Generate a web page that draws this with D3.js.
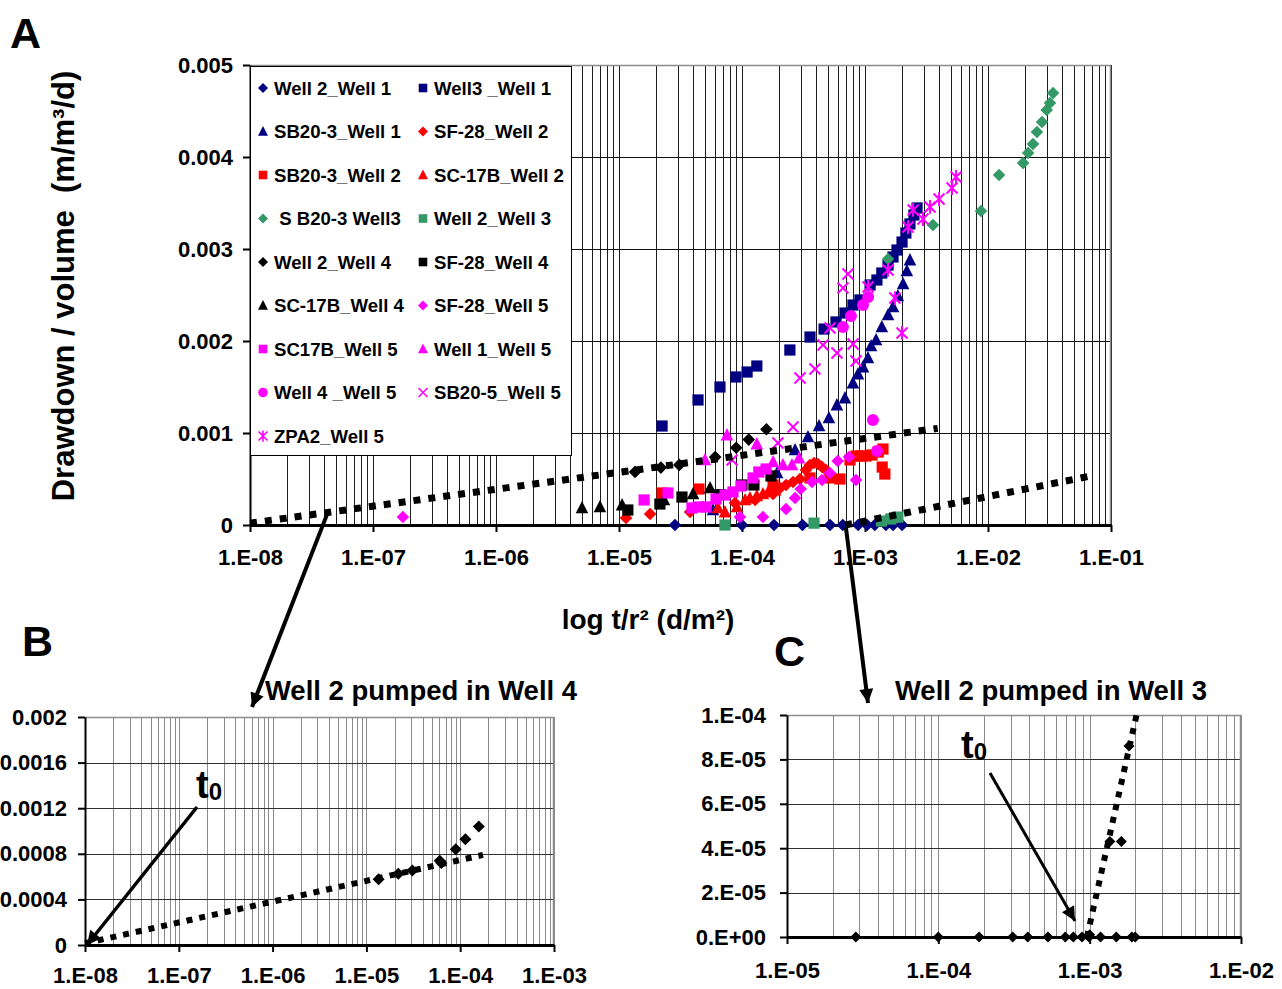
<!DOCTYPE html>
<html>
<head>
<meta charset="utf-8">
<script src="https://cdn.jsdelivr.net/npm/d3@7"></script>
<style>
  body { margin: 0; background: #fff; }
  svg { display: block; font-family: "Liberation Sans", Arial, sans-serif; font-weight: bold; }
</style>
</head>
<body>
<svg id="chart" width="1282" height="989"></svg>
<script>
// ---- data : [t/r2 (d/m2), drawdown/volume (m/m3/d)] ----

const well2Well1 = [[2.85e-5,0],[1e-4,0],[1.82e-4,0],[3.1e-4,0],[5.2e-4,0],[6.6e-4,0],[8.8e-4,0],[1.04e-3,0],[1.2e-3,0],[1.48e-3,0],[1.69e-3,0],[2.0e-3,0]];
const well3Well1 = [[2.24e-5,1.076e-3],[4.39e-5,1.359e-3],[6.62e-5,1.5e-3],[8.93e-5,1.609e-3],[1.10e-4,1.663e-3],[1.32e-4,1.728e-3],[2.45e-4,1.902e-3],[3.57e-4,2.043e-3],[4.65e-4,2.13e-3],[5.81e-4,2.207e-3],[6.87e-4,2.304e-3],[7.98e-4,2.391e-3],[9.1e-4,2.446e-3],[1.10e-3,2.609e-3],[1.25e-3,2.663e-3],[1.37e-3,2.739e-3],[1.54e-3,2.826e-3],[1.69e-3,2.913e-3],[1.82e-3,2.989e-3],[2.0e-3,3.076e-3],[2.15e-3,3.174e-3],[2.32e-3,3.272e-3],[2.5e-3,3.37e-3],[2.65e-3,3.446e-3]];
const sb203Well1 = [[5.81e-5,1.63e-4],[1.93e-4,5.65e-4],[2.70e-4,8.15e-4],[3.44e-4,9.57e-4],[4.23e-4,1.076e-3],[5.09e-4,1.163e-3],[5.91e-4,1.304e-3],[6.87e-4,1.38e-3],[7.98e-4,1.543e-3],[8.77e-4,1.641e-3],[9.64e-4,1.717e-3],[1.057e-3,1.815e-3],[1.12e-3,1.946e-3],[1.23e-3,2.011e-3],[1.37e-3,2.152e-3],[1.54e-3,2.283e-3],[1.69e-3,2.37e-3],[1.85e-3,2.489e-3],[2.04e-3,2.62e-3],[2.19e-3,2.761e-3],[2.32e-3,2.88e-3]];
const sf28Well2 = [[1.14e-5,7.6e-5],[1.79e-5,1.2e-4],[3.78e-5,1.41e-4],[8.77e-5,2.39e-4],[1.28e-4,2.72e-4],[1.79e-4,3.37e-4],[2.04e-4,4.02e-4],[2.28e-4,4.35e-4],[2.6e-4,4.67e-4],[2.96e-4,5e-4],[3.31e-4,5.98e-4],[3.57e-4,6.52e-4],[3.85e-4,6.74e-4],[4.15e-4,6.63e-4],[4.47e-4,6.3e-4],[4.82e-4,5.98e-4]];
const sb203Well2 = [[2.24e-5,3.48e-4],[4.47e-5,3.91e-4],[1.79e-4,4.35e-4],[3.57e-4,5.11e-4],[5.19e-4,5.11e-4],[6.26e-4,5e-4],[7.55e-4,7.07e-4],[8.45e-4,7.5e-4],[9.27e-4,7.5e-4],[1.02e-3,7.5e-4],[1.14e-3,7.61e-4],[1.28e-3,7.93e-4],[1.40e-3,8.26e-4],[1.38e-3,6.3e-4],[1.45e-3,5.54e-4]];
const sc17bWell2 = [[6.38e-5,1.85e-4],[7.27e-5,1.41e-4],[9.1e-5,1.96e-4],[1.06e-4,2.72e-4],[1.16e-4,2.93e-4],[1.32e-4,3.15e-4],[1.48e-4,3.37e-4],[1.63e-4,3.59e-4],[1.86e-4,3.8e-4]];
const sb203Well3 = [[1.54e-3,2.891e-3],[3.57e-3,3.261e-3],[8.77e-3,3.413e-3],[1.23e-2,3.804e-3],[1.93e-2,3.935e-3],[2.12e-2,4.043e-3],[2.32e-2,4.141e-3],[2.5e-2,4.272e-3],[2.75e-2,4.38e-3],[3.0e-2,4.511e-3],[3.19e-2,4.587e-3],[3.38e-2,4.696e-3]];
const well2Well3 = [[7.27e-5,0],[3.85e-4,2e-5],[1.36e-3,4.3e-5],[1.62e-3,6.5e-5],[1.85e-3,8.6e-5]];
const well2Well4 = [[1.35e-5,5.77e-4],[2.19e-5,6.24e-4],[3.09e-5,6.53e-4],[6.05e-5,7.38e-4],[8.97e-5,8.4e-4],[1.135e-4,9.28e-4],[1.58e-4,1.04e-3]];
const sf28Well4 = [[1.18e-5,1.63e-4],[2.15e-5,2.28e-4],[3.25e-5,3.04e-4],[6.62e-5,3.3e-4],[1.0e-4,4.35e-4],[1.25e-4,4.35e-4],[1.72e-4,5.33e-4]];
const sc17bWell4 = [[5e-6,1.85e-4],[7e-6,1.96e-4],[1.06e-5,2.17e-4],[2.32e-5,2.72e-4],[4e-5,3.37e-4],[5.5e-5,4.02e-4]];
const sf28Well5 = [[1.75e-7,8.7e-5],[9.63e-5,8.7e-5],[1.48e-4,8.7e-5],[2.28e-4,1.74e-4],[2.7e-4,2.93e-4],[3.0e-4,3.91e-4],[3.71e-4,4.67e-4],[4.47e-4,4.89e-4],[5.19e-4,5.65e-4],[6.0e-4,6.96e-4],[7.41e-4,7.39e-4],[8.45e-4,4.89e-4]];
const sc17bWell5 = [[1.6e-5,2.72e-4],[2.5e-5,3.48e-4],[3.92e-5,1.85e-4],[4.47e-5,1.96e-4],[5.1e-5,1.96e-4],[6.15e-5,2.83e-4],[7.27e-5,3.26e-4],[8.45e-5,3.59e-4],[9.8e-5,4.24e-4],[1.23e-4,5.11e-4],[1.37e-4,5.76e-4],[1.57e-4,6.09e-4]];
const well1Well5 = [[5e-5,7.07e-4],[7.55e-5,9.78e-4],[1.32e-4,8.8e-4],[1.79e-4,6.85e-4],[2.15e-4,6.52e-4],[2.55e-4,6.52e-4],[2.91e-4,7.28e-4]];
const well4Well5 = [[6.62e-4,2.152e-3],[7.69e-4,2.272e-3],[9.63e-4,2.391e-3],[1.06e-3,2.478e-3],[1.16e-3,1.141e-3],[1.25e-3,8.04e-4]];
const sb205Well5 = [[8.3e-5,7.07e-4],[1.96e-4,8.91e-4],[2.6e-4,1.065e-3],[2.96e-4,1.598e-3],[3.92e-4,1.696e-3],[4.56e-4,1.957e-3],[5.19e-4,2.141e-3],[5.92e-4,1.87e-3],[6.62e-4,2.576e-3],[7.27e-4,2.728e-3],[8.0e-4,1.967e-3],[8.45e-4,1.783e-3]];
const zpa2Well5 = [[1.06e-3,2.587e-3],[1.54e-3,2.772e-3],[1.75e-3,2.467e-3],[2.0e-3,2.087e-3],[2.24e-3,3.239e-3],[2.46e-3,3.424e-3],[2.96e-3,3.326e-3],[3.38e-3,3.457e-3],[4.0e-3,3.543e-3],[5.1e-3,3.663e-3],[5.5e-3,3.783e-3]];

// trend lines (straight on semi-log paper)
const trendWell4 = [[1e-8,2e-5],[3.9e-3,1.05e-3]];
const trendWell3 = [[6.9e-4,0],[6.7e-2,5.3e-4]];

// panel B : Well 2 pumped in Well 4
const detailWell4 = [[1.35e-5,5.77e-4],[2.19e-5,6.24e-4],[3.09e-5,6.53e-4],[6.05e-5,7.38e-4],[6.3e-5,7.2e-4],[8.97e-5,8.4e-4],[1.135e-4,9.28e-4],[1.58e-4,1.04e-3]];
const detailTrendWell4 = [[1e-8,1.5e-5],[1.75e-4,7.9e-4]];

// panel C : Well 2 pumped in Well 3
const detailWell3 = [[2.85e-5,0],[1e-4,0],[1.86e-4,0],[3.1e-4,0],[3.9e-4,0],[5.3e-4,0],[6.9e-4,0],[7.8e-4,0],[8.9e-4,0],[9.9e-4,0],[1.0e-3,1e-6],[1.18e-3,0],[1.5e-3,0],[1.9e-3,0],[2.0e-3,0],[1.36e-3,4.3e-5],[1.62e-3,4.3e-5],[1.82e-3,8.6e-5]];
const detailTrendWell3 = [[9.6e-4,0],[2.04e-3,1e-4]];

// ticks and labels
const mainXTicks = [1e-8,1e-7,1e-6,1e-5,1e-4,1e-3,1e-2,1e-1];
const mainXLabels = ["1.E-08","1.E-07","1.E-06","1.E-05","1.E-04","1.E-03","1.E-02","1.E-01"];
const mainYTicks = [0,0.001,0.002,0.003,0.004,0.005];
const mainYLabels = ["0","0.001","0.002","0.003","0.004","0.005"];
const bXTicks = [1e-8,1e-7,1e-6,1e-5,1e-4,1e-3];
const bXLabels = ["1.E-08","1.E-07","1.E-06","1.E-05","1.E-04","1.E-03"];
const bYTicks = [0,0.0004,0.0008,0.0012,0.0016,0.002];
const bYLabels = ["0","0.0004","0.0008","0.0012","0.0016","0.002"];
const cXTicks = [1e-5,1e-4,1e-3,1e-2];
const cXLabels = ["1.E-05","1.E-04","1.E-03","1.E-02"];
const cYTicks = [0,2e-5,4e-5,6e-5,8e-5,1e-4];
const cYLabels = ["0.E+00","2.E-05","4.E-05","6.E-05","8.E-05","1.E-04"];

const navy = "#000080", red = "#ff0000", green = "#339966", magenta = "#ff00ff";

const series = [
  {name: "Well 2_Well 1",  data: well2Well1, color: navy,    shape: "diamond"},
  {name: "Well3 _Well 1",  data: well3Well1, color: navy,    shape: "square"},
  {name: "SB20-3_Well 1",  data: sb203Well1, color: navy,    shape: "triangle"},
  {name: "SF-28_Well 2",   data: sf28Well2,  color: red,     shape: "diamond"},
  {name: "SB20-3_Well 2",  data: sb203Well2, color: red,     shape: "square"},
  {name: "SC-17B_Well 2",  data: sc17bWell2, color: red,     shape: "triangle"},
  {name: " S B20-3 Well3", data: sb203Well3, color: green,   shape: "diamond"},
  {name: "Well 2_Well 3",  data: well2Well3, color: green,   shape: "square"},
  {name: "Well 2_Well 4",  data: well2Well4, color: "#000",  shape: "diamond"},
  {name: "SF-28_Well 4",   data: sf28Well4,  color: "#000",  shape: "square"},
  {name: "SC-17B_Well 4",  data: sc17bWell4, color: "#000",  shape: "triangle"},
  {name: "SF-28_Well 5",   data: sf28Well5,  color: magenta, shape: "diamond"},
  {name: "SC17B_Well 5",   data: sc17bWell5, color: magenta, shape: "square"},
  {name: "Well 1_Well 5",  data: well1Well5, color: magenta, shape: "triangle"},
  {name: "Well 4 _Well 5", data: well4Well5, color: magenta, shape: "circle"},
  {name: "SB20-5_Well 5",  data: sb205Well5, color: magenta, shape: "cross"},
  {name: "ZPA2_Well 5",    data: zpa2Well5,  color: magenta, shape: "star"}
];

// marker shapes, r = half size
const shapes = {
  diamond:  r => `M0,${-r}L${r},0L0,${r}L${-r},0Z`,
  square:   r => `M${-r},${-r}H${r}V${r}H${-r}Z`,
  triangle: r => `M0,${-r * 1.1}L${r},${r * 0.85}L${-r},${r * 0.85}Z`,
  circle:   r => d3.symbol(d3.symbolCircle, Math.PI * r * r)(),
  cross:    r => `M${-r},${-r}L${r},${r}M${-r},${r}L${r},${-r}`,
  star:     r => `M${-r},${-r}L${r},${r}M${-r},${r}L${r},${-r}M0,${-r * 1.25}V${r * 1.25}`
};
const stroked = {cross: true, star: true};
const mainSize = {diamond: 6.3, square: 5.6, triangle: 6.3, circle: 6, cross: 5.5, star: 5.5};
const legendSize = {diamond: 5, square: 4.3, triangle: 5, circle: 4.8, cross: 4.5, star: 4.5};

const svg = d3.select("#chart");

const defs = svg.append("defs");
defs.append("marker")
    .attr("id", "head")
    .attr("viewBox", "0 0 10 10")
    .attr("refX", 10).attr("refY", 5)
    .attr("markerUnits", "userSpaceOnUse")
    .attr("markerWidth", 17).attr("markerHeight", 14)
    .attr("orient", "auto")
  .append("path")
    .attr("d", "M0,0L10,5L0,10Z")
    .attr("fill", "#000");

// ---- scales ----

const mainX = d3.scaleLog().domain([1e-8, 1e-1]).range([250, 1111]);
const mainY = d3.scaleLinear().domain([0, 0.005]).range([525, 65]);
const bX = d3.scaleLog().domain([1e-8, 1e-3]).range([85, 554]);
const bY = d3.scaleLinear().domain([0, 0.002]).range([945, 717]);
const cX = d3.scaleLog().domain([1e-5, 1e-2]).range([787, 1241]);
const cY = d3.scaleLinear().domain([0, 1e-4]).range([937, 715]);

// grid + axes for a semi-log panel
function frame(x, y, xTicks, xLabels, yTicks, yLabels, o) {
  const g = svg.append("g");
  const [xl, xr] = x.range(), [yb, yt] = y.range();

  g.append("g").selectAll("line")
    .data(x.ticks())
    .join("line")
      .attr("x1", d => Math.round(x(d)) + 0.5)
      .attr("x2", d => Math.round(x(d)) + 0.5)
      .attr("y1", yt).attr("y2", yb)
      .attr("stroke", o.vGrid).attr("stroke-width", 1);

  g.append("g").selectAll("line")
    .data(yTicks.slice(1))
    .join("line")
      .attr("x1", xl).attr("x2", xr)
      .attr("y1", d => Math.round(y(d)) + 0.5)
      .attr("y2", d => Math.round(y(d)) + 0.5)
      .attr("stroke", o.hGrid).attr("stroke-width", 1);

  g.append("path")
    .attr("d", `M${xl},${yt + 0.5}H${xr - 0.5}V${yb}`)
    .attr("fill", "none")
    .attr("stroke", "#8c8c8c")
    .attr("stroke-width", 1.5);

  const xa = g.append("g")
      .attr("transform", `translate(0,${yb})`)
      .call(d3.axisBottom(x).tickValues(xTicks).tickFormat((d, i) => xLabels[i])
        .tickSize(7).tickSizeOuter(0).tickPadding(o.xPad));
  const ya = g.append("g")
      .attr("transform", `translate(${xl},0)`)
      .call(d3.axisLeft(y).tickValues(yTicks).tickFormat((d, i) => yLabels[i])
        .tickSize(7).tickSizeOuter(0).tickPadding(o.yPad));

  [xa, ya].forEach(a => {
    a.attr("font-family", null).attr("font-size", null);
    a.selectAll("text").attr("font-size", o.fs).attr("font-weight", "bold").attr("fill", "#000");
    a.selectAll(".tick line").attr("stroke", "#000").attr("stroke-width", 2);
  });
  xa.select(".domain").attr("stroke", "#000").attr("stroke-width", 3);
  ya.select(".domain").attr("stroke", "#000").attr("stroke-width", 2);
  return g;
}

function drawPoints(g, x, y, data, shape, color, r) {
  g.append("g").selectAll("path")
    .data(data)
    .join("path")
      .attr("transform", d => `translate(${x(d[0])},${y(d[1])})`)
      .attr("d", shapes[shape](r))
      .attr("fill", stroked[shape] ? "none" : color)
      .attr("stroke", stroked[shape] ? color : "none")
      .attr("stroke-width", 2);
}

function drawTrend(g, x, y, data, w, dash) {
  g.append("path")
    .datum(data)
    .attr("fill", "none")
    .attr("stroke", "#000")
    .attr("stroke-width", w)
    .attr("stroke-dasharray", dash)
    .attr("d", d3.line().x(d => x(d[0])).y(d => y(d[1])));
}

function arrow(p0, p1, w) {
  svg.append("line")
    .attr("x1", p0[0]).attr("y1", p0[1])
    .attr("x2", p1[0]).attr("y2", p1[1])
    .attr("stroke", "#000").attr("stroke-width", w)
    .attr("marker-end", "url(#head)");
}

// ---- panel A ----

const gA = frame(mainX, mainY, mainXTicks, mainXLabels, mainYTicks, mainYLabels,
  {vGrid: "#1e1e1e", hGrid: "#101010", xPad: 17, yPad: 10, fs: 22});

series.forEach(s => drawPoints(gA, mainX, mainY, s.data, s.shape, s.color, mainSize[s.shape]));
drawTrend(gA, mainX, mainY, trendWell4, 7, "7,8");
drawTrend(gA, mainX, mainY, trendWell3, 7, "7,8");

// legend
const legend = svg.append("g");
legend.append("rect")
  .attr("x", 250.5).attr("y", 66.5)
  .attr("width", 321).attr("height", 389)
  .attr("fill", "#fff").attr("stroke", "#000").attr("stroke-width", 1);

const item = legend.selectAll("g.item")
  .data(series)
  .join("g")
    .attr("class", "item")
    .attr("transform", (d, i) => `translate(${263 + (i % 2) * 160},${88 + Math.floor(i / 2) * 43.5})`);
item.append("path")
  .attr("d", d => shapes[d.shape](legendSize[d.shape]))
  .attr("fill", d => stroked[d.shape] ? "none" : d.color)
  .attr("stroke", d => stroked[d.shape] ? d.color : "none")
  .attr("stroke-width", 1.6);
item.append("text")
  .attr("x", 11).attr("dy", "0.36em")
  .attr("font-size", 18.6)
  .style("white-space", "pre")
  .text(d => d.name);

// axis titles
svg.append("text")
  .attr("transform", "translate(74,286) rotate(-90)")
  .attr("text-anchor", "middle")
  .attr("font-size", 31)
  .style("white-space", "pre")
  .text("Drawdown / volume  (m/m³/d)");

svg.append("text")
  .attr("x", 648).attr("y", 629)
  .attr("text-anchor", "middle")
  .attr("font-size", 28)
  .text("log t/r² (d/m²)");

// ---- panel B ----

const gB = frame(bX, bY, bXTicks, bXLabels, bYTicks, bYLabels,
  {vGrid: "#8a8a8a", hGrid: "#303030", xPad: 15, yPad: 11, fs: 22});
drawTrend(gB, bX, bY, detailTrendWell4, 6, "6,7");
drawPoints(gB, bX, bY, detailWell4, "diamond", "#000", 6);

svg.append("text")
  .attr("x", 421).attr("y", 700)
  .attr("text-anchor", "middle")
  .attr("font-size", 27.5)
  .text("Well 2 pumped in Well 4");

// ---- panel C ----

const gC = frame(cX, cY, cXTicks, cXLabels, cYTicks, cYLabels,
  {vGrid: "#8a8a8a", hGrid: "#303030", xPad: 18, yPad: 14, fs: 22});
drawTrend(gC, cX, cY, detailTrendWell3, 6, "6,7");
drawPoints(gC, cX, cY, detailWell3, "diamond", "#000", 5.5);

svg.append("text")
  .attr("x", 1051).attr("y", 700)
  .attr("text-anchor", "middle")
  .attr("font-size", 27.5)
  .text("Well 2 pumped in Well 3");

// ---- panel letters ----

[["A", 10, 48], ["B", 22, 656], ["C", 774, 666]].forEach(([t, x, y]) => {
  svg.append("text").attr("x", x).attr("y", y).attr("font-size", 43).text(t);
});

// t0 labels
function tZero(x, y) {
  const t = svg.append("text").attr("x", x).attr("y", y).attr("font-size", 38).text("t");
  t.append("tspan").attr("font-size", 24).attr("dy", 2).text("0");
}
tZero(196, 798);
tZero(961, 758);

// ---- arrows ----

arrow([mainX(4.3e-8), mainY(1.4e-4)], [252, 707], 4);
arrow([mainX(7.0e-4), mainY(-0.00003)], [868, 703], 4);
arrow([197, 807], [bX(1.05e-8), bY(0)], 3.5);
arrow([990, 773], [1075, 921], 3);
</script>
</body>
</html>
